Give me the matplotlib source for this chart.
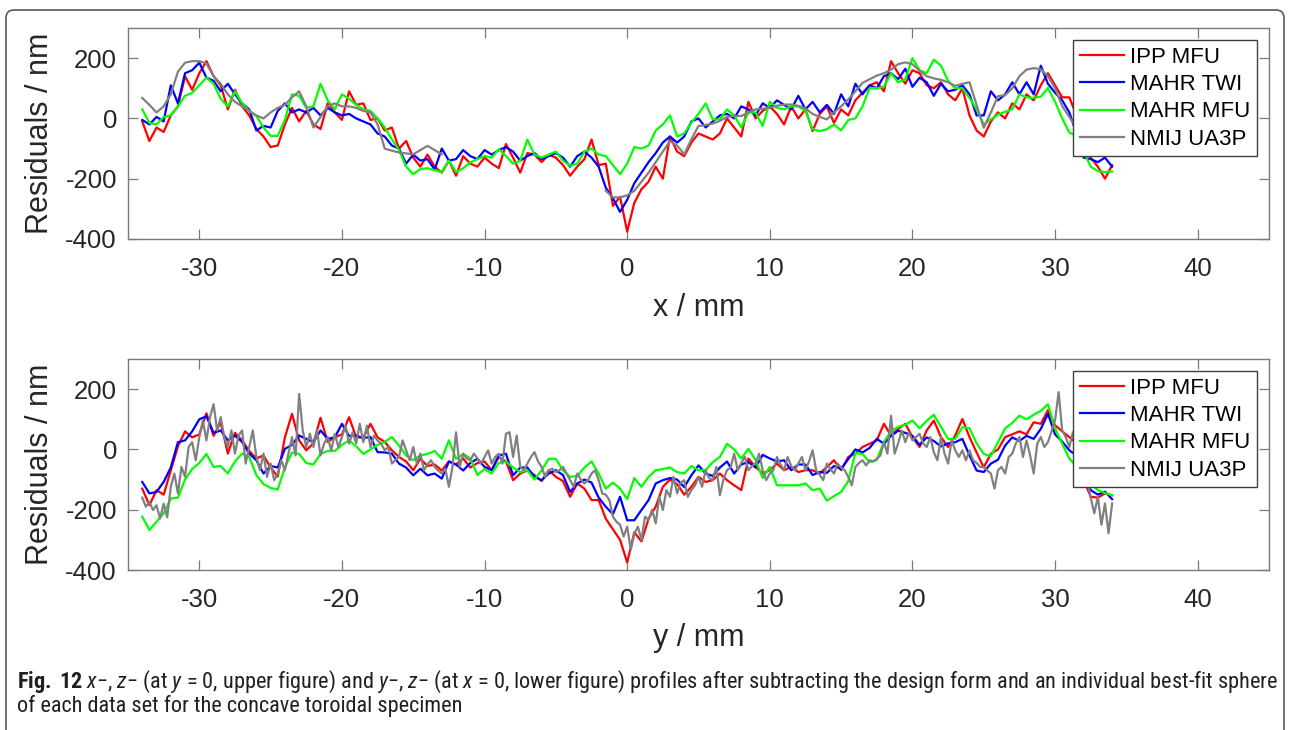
#!/usr/bin/env python3
"""
Residual profiles (x- and y-direction) of the concave toroidal specimen,
four instruments overlaid, with the figure caption underneath.
"""

import matplotlib
import numpy as np

matplotlib.use("Agg")
import matplotlib.pyplot as plt
from matplotlib import font_manager
from matplotlib.patches import FancyBboxPatch
from matplotlib.transforms import IdentityTransform

nan = np.nan

# sample positions along the profile (mm)
POS = np.arange(-34, 34.001, 0.5)
POS_FINE = np.arange(-34, 34.001, 0.25)

LABELS = ["IPP MFU", "MAHR TWI", "MAHR MFU", "NMIJ UA3P"]
COLORS = ["#ff0000", "#0000ff", "#00ff00", "#808080"]

# ---- upper figure: x-profile at y = 0 (nm) ----
X_IPP_MFU = [
    -10, -75, -30, -45, 10, 40, 140, 95, 150, 190, 140, 110, 30, 95, 40, 10, -35, -60,
    -95, -90, -20, 35, -10, 25, -20, -35, 50, 20, -5, 90, 45, 50, -5, 0, -40,
    -30, -100, -75, -130, -160, -120, -160, -180, -140, -190, -125, -150, -160, -130,
    -150, -165, -85, -130, -180, -115, -120, -145, -120, -130, -155, -190, -160, -135,
    -70, -155, -150, -290, -260, -375, -280, -235, -210, -160, -200, -60,
    -110, -125, -80, -50, -60, -70, -50, 0, -30, -60, 55, 0, 25, 40, 15, -20, 40, 0,
    30, -42, 15, 40, -15, 30, 10, 60, 85, 110, 120, 90, 190, 150, 115, 160, 150, 110,
    100, 120, 80, 60, 100,
    10, -40, -60, -10, 20, 0, 50, 30, 80, 60, 110, 150, 110, 70, 70, 10, -60, -130,
    -160, -200, -155,
]
X_MAHR_TWI = [
    -5, -20, 5, -10, 110, 50, 150, 160, 185, 135, 125, 90, 115, 80, 50, 30, -40, -25,
    -30, 25, 50, 20, 30, 20, 35, 10, 35, 20, 10, 15, 0, -10, -20, -50, -60,
    -90, -100, -150, -120, -140, -135, -170, -100, -140, -135, -105, -125, -135, -105,
    -120, -105, -95, -110, -140, -125, -115, -135, -125, -115, -130, -160, -125, -110,
    -130, -160, -230, -265, -310, -270, -215, -180, -145, -115, -80, -60,
    -80, -60, -10, 0, -30, -10, 10, 15, 0, 40, 30, 10, 50, 35, 60, 45, 30, 75, 30, 55,
    20, 45, 15, 80, 40, 115, 80, 110, 100, 140, 150, 130, 165, 105, 135, 120, 75, 115,
    90, 95, 110,
    80, 10, 10, 90, 60, 80, 120, 80, 120, 80, 175, 115, 85, 60, 20, -50, -130, -135,
    -145, -130, -160,
]
X_MAHR_MFU = [
    30, -15, -20, 5, 10, 40, 75, 85, 110, 135, 115, 65, 40, 90, 50, 25, 8, -30, -58,
    -58, -5, 80, 75, 35, 40, 115, 60, 30, 80, 65, 45, 30, 25, 0, -30,
    -69, -105, -160, -185, -168, -165, -172, -178, -140, -178, -165, -146, -135, -125,
    -130, -102, -125, -150, -140, -70, -120, -130, -120, -110, -140, -157, -150, -110,
    -100, -120, -125, -155, -185, -150, -95, -100, -90, -40, -20, 10,
    -60, -50, -14, 15, 50, -3, -3, 30, 10, -30, 20, 19, -25, 55, 35, 30, 40, 40, 25,
    -36, -42, -36, -20, -40, -5, 0, 40, 101, 100, 105, 150, 120, 130, 200, 160, 150,
    195, 175, 125, 100, 100,
    68, 30, -20, -3, 13, 22, 30, 80, 70, 68, 72, 101, 55, 0, -47, -58, -110, -160,
    -175, -178, -176,
]
X_NMIJ_UA3P = [
    68, 45, 20, 40, 80, 155, 185, 190, 190, 182, 140, 115, 80, 55, 40, 25, 10, 0, 20,
    35, 45, 70, 90, 40, -30, 5, 40, 50, 40, 40, 35, 25, 20, -20, -100,
    -107, -113, -116, -119, -105, -91, -105, -119,
    nan, nan, nan, nan, nan, nan, nan, nan, nan, nan, nan,
    nan, nan, nan, nan, nan, nan, nan, nan, nan, nan, nan,
    -240, -262, -262, -255, -240, -210, -180, -145, -110, -75,
    -90, -119, -69, -25, -22, -17, -8, 5, 8, 8, 20, 30, 32, 36, 42, 46, 46, 42, 33, 15,
    5, -3, 20, 40, 63, 90, 118, 130, 142, 150, 162, 180, 186, 180, 158, 140, 133, 128,
    120, 108, 115,
    120, 45, -31, 20, 74, 77, 100, 140, 162, 167, 163, 140, 100, 41, 5, -31, -65, -100,
    nan, nan, nan,
]

# ---- lower figure: y-profile at x = 0 (nm) ----
Y_IPP_MFU = [
    -130, -185, -135, -150, -70, 10, 60, 40, 50, 120, 45, 90, -14, 55, 30, -5, -30, -20,
    -60, -90, 40, 118, 30, -3, 20, 105, 25, 40, 50, 107, 40, 40, 85, 40, 25,
    -3, -25, -40, -69, -31, -55, -50, -70, -40, -50, -30, -60, -45, -40, -69, -25, -40,
    -102, -80, -70, -85, -105, -69, -91, -105, -157, -113, -130, -168, -168, -230, -265,
    -300, -375, -275, -305, -230, -190, -124, -100,
    -115, -150, -124, -91, -108, -102, -80, -102, -119, -135, -30, -58, -80, -69, -47,
    -69, -58, -75, -69, -69, -80, -58, -36, -69, -25, -14, 8, 19, 30, 85, 46, 68, 85,
    41, 8, 63, 96, 41, 8, 46, 101,
    41, -10, -60, -14, 0, 41, 50, 60, 50, 90, 85, 130, 80, 60, 41, 20, -100, -157, -160,
    -146, -152,
]
Y_MAHR_TWI = [
    -108, -146, -141, -108, -60, 24, 30, 60, 100, 110, 55, 63, 30, 46, 25, -14, -36,
    -80, -55, -60, 2, 15, 46, 35, 24, 63, 35, 40, 85, 45, 46, 38, 41, -9, -10,
    -14, -47, -60, -86, -64, -86, -80, -97, -40, -50, -70, -45, -31, -58, -69, -20, -14,
    -86, -60, -60, -91, -102, -80, -69, -85, -141, -113, -100, -110, -160, -190, -215,
    -157, -235, -235, -201, -168, -113, -102, -95,
    -100, -125, -86, -53, -80, -88, -60, -40, -80, -50, -42, -60, -18, -30, -40, -36,
    -69, -50, -50, -85, -75, -78, -55, -65, -32, 0, -10, 5, 35, 19, 45, 62, 55, 45, 15,
    40, 28, 10, 20, 24, 35,
    -20, -70, -75, -47, -34, 13, 40, 28, 45, 35, 68, 118, 50, 26, -3, -20, -90, -135,
    -150, -140, -165,
]
Y_MAHR_MFU = [
    -223, -267, -240, -212, -163, -160, -100, -65, -45, -15, -58, -55, -80, -40, -14,
    -25, -85, -115, -128, -133, -60, -10, -15, -45, -50, -15, -5, -5, 15, 30, 10, -15,
    0, 15, 25,
    41, 13, -20, -36, -20, -15, -5, -31, 30, -31, -15, -30, -85, -65, -80, -45, -40,
    -60, -75, -69, -100, -69, -31, -31, -70, -91, -88, -60, -40, -80, -130, -110, -130,
    -165, -95, -124, -91, -69, -65, -60,
    -75, -80, -55, -69, -69, -42, -25, 19, 0, -30, 2, -35, -95, -58, -119, -119, -119,
    -119, -113, -135, -130, -170, -155, -141, -105, -12, -15, -42, -35, 25, 60, 75, 82,
    96, 70, 95, 115, 75, 35, 35, 74,
    70, 20, -15, -22, 24, 70, 88, 112, 100, 115, 128, 150, 70, 19, -31, -55, -90, -115,
    -135, -145, -152,
]
# UA3P profile is sampled twice as densely
Y_NMIJ_UA3P = [
    -160, -190, -174, -201, -185, -229, -180, -225, -124, -80,
    -146, -58, -91, 8, 24, -36, 41, 96, 30, 107,
    150, 63, 107, 41, 8, 63, -14, 46, 63, -47,
    8, 63, -25, -69, -14, -91, -47, -102, -80, -36,
    -69, -14, 41, -20, 184, 63, 8, 52, 8, 63,
    -20, 19, 41, -3, 52, 8, 41, 79, 19, 57,
    20, 85, 24, 79, 8, 46, 30, 19,
    -3, 8, -47, -35, -25, 30, -3, -36, 8, -47,
    -14, -69, -50, -36, -58, -70, -80, -64, -124, -58,
    57, -58, -14, -30, -36, -14, -30, -47, -25, -3,
    -47, -25, -14, -47, 52, 57, -25, 46, -58, -69,
    -47, -25, -9, -40, -58, -91, -69, -64, -75, -69,
    -58, -80, -102, -124, -80, -100, -113, -102, -80, -69,
    -102, -146, -150, -168, -223, -240, -250, -289,
    -256, -333, -280, -256, -300, -223, -234, -200, -245, -157,
    -201, -135, -157, -91, -146, -110, -102, -157, -135, -120,
    -91, -124, -69, -95, -102, -58, -152, -100, -69, -60,
    -14, -69, -45, -25, -69, -55, -47, -14, -69, -102,
    -80, -69, -25, -50, -69, -25, -55, -69, -47, -25,
    -69, -40, -3, -69, -85, -102, -47, -65, -80, -47,
    -60, -69, -91, -119, -58, -45, -36, -53,
    -36, -40, -31, -20, 24, -14, 112, -14, 20, 63,
    24, 57, 30, 41, 52, 20, 8, 41, -10, -36,
    41, -14, -47, 30, -3, -25, -3, -36, -3, -36,
    -45, -58, -58, -70, -80, -130, -69, -58, -80, -25,
    -14, 20, 41, -25, 30, -20, -80, 19, 41, 8,
    24, 60, 96, 190, 63, 41, 8, 57, 45, 30,
    -36, -100, -160, -212, -157, -250, -179, -278, -179,
]

XTICKS = [-30, -20, -10, 0, 10, 20, 30, 40]
YTICKS = [-400, -200, 0, 200]

plt.rcParams["axes.unicode_minus"] = False
plt.rcParams["font.family"] = ["Liberation Sans", "DejaVu Sans"]

# caption font: a narrow humanist face if one is around
names = {f.name for f in font_manager.fontManager.ttflist}
cap_font = "Liberation Sans"
for cand in ["Liberation Sans Narrow", "Roboto Condensed", "Lato", "Roboto"]:
    if cand in names:
        cap_font = cand
        break
plt.rcParams["mathtext.fontset"] = "custom"
plt.rcParams["mathtext.rm"] = cap_font
plt.rcParams["mathtext.it"] = cap_font + ":italic"
plt.rcParams["mathtext.bf"] = cap_font + ":bold"

W, H = 1290, 730
fig = plt.figure(figsize=(W / 100, H / 100), dpi=100)

TXT = "#262626"
SPINE = "#7a7a7a"


def px_axes(left, top, right, bottom):
    return fig.add_axes([left / W, 1 - bottom / H, (right - left) / W, (bottom - top) / H])


def style_panel(ax, xlabel, label_base):
    ax.set_xlim(-35, 45)
    ax.set_ylim(-400, 300)
    ax.set_xticks(XTICKS)
    ax.set_yticks(YTICKS)
    ax.tick_params(direction="in", top=True, right=True, length=7.5, width=0.9,
                   color=SPINE, labelsize=18.5, labelcolor=TXT)
    ax.tick_params(axis="x", pad=13)
    ax.tick_params(axis="y", pad=8)
    for sp in ax.spines.values():
        sp.set_color(SPINE)
        sp.set_linewidth(1.0)
    ax.text(-0.077, 0.5, "Residuals / nm", transform=ax.transAxes, rotation=90,
            ha="center", va="center", fontsize=22, color=TXT)
    fig.text(699 / W, 1 - label_base / H, xlabel, ha="center", va="baseline",
             fontsize=22, color=TXT)
    leg = ax.legend(loc="upper right", fontsize=16, frameon=True, fancybox=False,
                    framealpha=1, edgecolor="#404040", borderaxespad=0.55,
                    handlelength=2.0, handletextpad=0.25, labelspacing=0.28,
                    borderpad=0.3)
    leg.get_frame().set_linewidth(1.0)


# upper panel
ax1 = px_axes(128, 28, 1269, 239)
for ys, lab, col in zip([X_IPP_MFU, X_MAHR_TWI, X_MAHR_MFU, X_NMIJ_UA3P], LABELS, COLORS):
    ax1.plot(POS, ys, color=col, lw=1.6, label=lab)
style_panel(ax1, "x / mm", 316)

# lower panel
ax2 = px_axes(128, 359, 1269, 570)
ax2.plot(POS, Y_IPP_MFU, color=COLORS[0], lw=1.6, label=LABELS[0])
ax2.plot(POS, Y_MAHR_TWI, color=COLORS[1], lw=1.6, label=LABELS[1])
ax2.plot(POS, Y_MAHR_MFU, color=COLORS[2], lw=1.6, label=LABELS[2])
ax2.plot(POS_FINE, Y_NMIJ_UA3P, color=COLORS[3], lw=1.6, label=LABELS[3])
style_panel(ax2, "y / mm", 646)

# caption, first line stretched to the width of the frame
line1 = (r"$\mathbf{Fig.}$ $\mathbf{12}$ $x$−, $z$− (at $y$ = 0, upper figure) and $y$−, $z$− "
         r"(at $x$ = 0, lower figure) profiles after subtracting the design form and an "
         r"individual best-fit sphere")
line2 = "of each data set for the concave toroidal specimen"
cap1 = fig.text(17 / W, 1 - 688 / H, line1, fontsize=13, family=cap_font,
                color="#231f20", va="baseline")
fig.canvas.draw()
w = cap1.get_window_extent().width
size = 13 * 1261 / w
cap1.set_fontsize(size)
fig.text(17 / W, 1 - 712 / H, line2, fontsize=size, family=cap_font,
         color="#231f20", va="baseline")

# page frame around the figure
frame = FancyBboxPatch((6, -30), 1278, 750, boxstyle="round,pad=0,rounding_size=8",
                       transform=IdentityTransform(), fill=False, ec="#58595b", lw=1.2)
fig.add_artist(frame)

fig.savefig("out.png", dpi=100)
